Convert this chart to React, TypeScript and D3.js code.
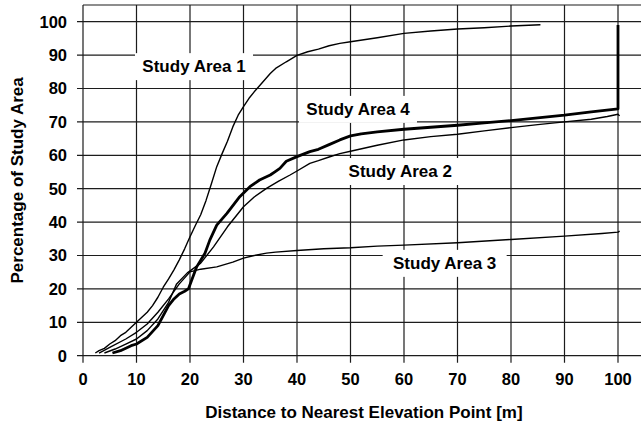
import React from "react";
import * as d3 from "d3";

// Cumulative share of each study area (%) against distance to the nearest elevation point (m)
const area1X = [2.3, 3, 4, 5, 6, 7, 8, 9, 10, 11, 12, 13, 14, 15, 16, 17, 18, 19, 20, 21, 22, 23, 24, 25, 26, 27, 28, 29, 30, 31, 32, 33, 35, 36, 38, 40, 42, 44, 46, 48, 50, 55, 60, 65, 70, 75, 80, 85.5];
const area1Y = [0.8, 1.5, 2.2, 3.5, 4.5, 6, 7, 8.5, 10, 11.5, 13, 15, 17.5, 20.5, 23, 25.7, 28.7, 32, 35.6, 39, 42.2, 46.5, 51.5, 56.6, 60.5, 64.2, 68.5, 72, 74.6, 77, 79, 80.8, 84.5, 86, 88, 89.9, 91, 91.8, 92.8, 93.5, 94, 95.2, 96.5, 97.2, 97.8, 98.2, 98.7, 99.1];

const area2X = [4, 6, 8, 10, 12, 14, 16, 17.5, 19.5, 22, 24.4, 27, 30, 32, 34.3, 36.5, 38.7, 40, 42.4, 44, 46, 48, 50, 55, 60, 65, 70, 75, 80, 85, 90, 95, 98, 100, 100.3];
const area2Y = [0.8, 2, 3.5, 5, 7.5, 11, 16, 21.5, 24.8, 27.7, 32.6, 38.6, 44.6, 47.5, 50.1, 52.2, 54.1, 55.3, 57.6, 58.4, 59.5, 60.5, 61.2, 63, 64.6, 65.6, 66.3, 67.3, 68.3, 69.2, 70, 70.8, 71.6, 72.3, 71.8];

const area3X = [3, 5, 8, 10, 12, 14, 16, 18, 20, 22, 25, 28, 30, 32, 34.3, 36, 40, 45, 50, 55, 60, 70, 80, 90, 97, 100, 100.3];
const area3Y = [0.8, 2.5, 5, 7, 9.5, 13, 17, 21.5, 25.1, 25.9, 26.6, 28, 29.2, 30, 30.7, 31, 31.5, 32, 32.3, 32.8, 33.1, 33.8, 34.8, 35.8, 36.6, 37, 37.3];

const area4X = [5.5, 7, 9, 10, 12, 14, 15, 16, 17, 18, 19, 19.7, 21.25, 22.8, 23.7, 25, 26.9, 29.3, 31.2, 33, 35, 36, 36.8, 38, 40, 42.4, 44, 46, 48, 50, 52, 55, 60, 65, 70, 75, 80, 85, 90, 95, 100, 100];
const area4Y = [0.8, 1.5, 3, 3.5, 5.5, 9, 12, 15, 17, 18.5, 19.3, 20, 26.6, 30.7, 34.6, 39.1, 42.6, 47.6, 50.6, 52.6, 54.1, 55.2, 56.1, 58.2, 59.6, 61.1, 61.8, 63.2, 64.6, 65.8, 66.4, 67, 67.8, 68.4, 69, 69.7, 70.4, 71.2, 72, 73, 73.9, 99];

const seriesNames = ["Study Area 1", "Study Area 2", "Study Area 3", "Study Area 4"];

const xTicks = [0, 10, 20, 30, 40, 50, 60, 70, 80, 90, 100];
const yTicks = [0, 10, 20, 30, 40, 50, 60, 70, 80, 90, 100];

const W = 641;
const H = 423;
const FONT = "'Liberation Sans', Arial, Helvetica, sans-serif";

const x = d3.scaleLinear().domain([0, 105]).range([83, 644.75]);
const y = d3.scaleLinear().domain([0, 105]).range([355.7, 5]);

const line = d3
  .line<[number, number]>()
  .x((d) => x(d[0]))
  .y((d) => y(d[1]));

const zip = (xs: number[], ys: number[]): [number, number][] =>
  xs.map((v, i) => [v, ys[i]]);

const series = [
  { name: seriesNames[0], pts: zip(area1X, area1Y), width: 1.4 },
  { name: seriesNames[1], pts: zip(area2X, area2Y), width: 1.4 },
  { name: seriesNames[2], pts: zip(area3X, area3Y), width: 1.4 },
  { name: seriesNames[3], pts: zip(area4X, area4Y), width: 2.8 },
];

// In-plot labels: anchor (data units) of text centre / baseline, and half-width of the white box
const labels = [
  { text: seriesNames[0], cx: 20.75, by: 84.9, half: 59 },
  { text: seriesNames[3], cx: 51.4, by: 72.1, half: 59 },
  { text: seriesNames[1], cx: 59.3, by: 53.5, half: 59 },
  { text: seriesNames[2], cx: 67.6, by: 26, half: 62 },
];

export default function App() {
  const gridColor = "#1c1c1c";
  const top = y(105);
  const bottom = y(0);
  return (
    <svg
      width={W}
      height={H}
      style={{ position: "absolute", left: 0, top: 0, background: "#fff" }}
      fontFamily={FONT}
    >
      <rect x={0} y={0} width={W} height={H} fill="#fff" />
      {/* frame top */}
      <line x1={x(0)} x2={W} y1={top} y2={top} stroke={gridColor} strokeWidth={1.2} />
      {/* horizontal grid + y ticks */}
      {yTicks.map((t) => (
        <g key={"y" + t}>
          <line x1={x(0) - 6} x2={W} y1={y(t)} y2={y(t)} stroke={gridColor} strokeWidth={1.2} />
          <text
            x={67}
            y={y(t)}
            dy="0.36em"
            textAnchor="end"
            fontSize={16.5}
            fontWeight="bold"
            fill="#000"
          >
            {t}
          </text>
        </g>
      ))}
      {/* vertical grid + x ticks */}
      {xTicks.map((t) => (
        <g key={"x" + t}>
          <line x1={x(t)} x2={x(t)} y1={top} y2={bottom + 7} stroke={gridColor} strokeWidth={1.2} />
          <text
            x={x(t)}
            y={385}
            textAnchor="middle"
            fontSize={16.5}
            fontWeight="bold"
            fill="#000"
          >
            {t}
          </text>
        </g>
      ))}
      {/* label boxes */}
      {labels.map((l) => (
        <g key={l.text}>
          <rect
            x={x(l.cx) - l.half}
            y={y(l.by) - 19}
            width={l.half * 2}
            height={27}
            fill="#fff"
          />
          <text
            x={x(l.cx)}
            y={y(l.by)}
            textAnchor="middle"
            fontSize={17}
            fontWeight="bold"
            fill="#000"
          >
            {l.text}
          </text>
        </g>
      ))}
      {/* curves */}
      {series.map((s) => (
        <path
          key={s.name}
          d={line(s.pts) || ""}
          fill="none"
          stroke="#000"
          strokeWidth={s.width}
          strokeLinejoin="round"
        />
      ))}
      {/* axis titles */}
      <text
        x={(x(0) + x(105)) / 2}
        y={418}
        textAnchor="middle"
        fontSize={17}
        fontWeight="bold"
        fill="#000"
      >
        Distance to Nearest Elevation Point [m]
      </text>
      <text
        transform={`translate(23, ${(top + bottom) / 2}) rotate(-90)`}
        textAnchor="middle"
        fontSize={17}
        fontWeight="bold"
        fill="#000"
      >
        Percentage of Study Area
      </text>
    </svg>
  );
}
